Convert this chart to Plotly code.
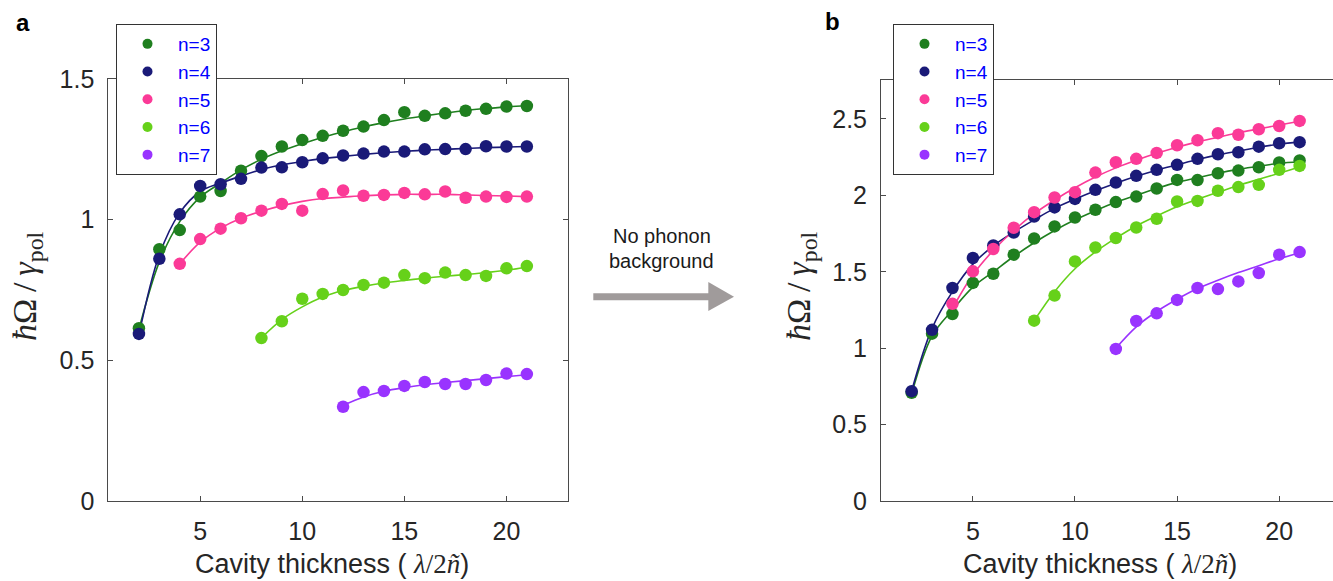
import plotly.graph_objects as go

# ---------------- data ----------------
labels = ["n=3", "n=4", "n=5", "n=6", "n=7"]
colors = ["#1f7f1f", "#1a1a78", "#fb3a97", "#66d11a", "#9933ff"]

x_n3 = list(range(2, 22))
x_n4 = list(range(2, 22))
x_n5 = list(range(4, 22))
x_n6 = list(range(8, 22))
x_n7 = list(range(12, 22))

# panel a: with phonon background (measured points)
a_n3 = [0.614, 0.895, 0.963, 1.082, 1.102, 1.174, 1.226, 1.260, 1.283, 1.298,
        1.316, 1.331, 1.354, 1.382, 1.369, 1.378, 1.387, 1.394, 1.402, 1.404]
a_n4 = [0.594, 0.861, 1.019, 1.120, 1.126, 1.145, 1.185, 1.186, 1.204, 1.218,
        1.228, 1.235, 1.242, 1.242, 1.250, 1.251, 1.251, 1.261, 1.260, 1.260]
a_n5 = [0.843, 0.931, 0.968, 1.005, 1.032, 1.056, 1.032, 1.091, 1.104, 1.085,
        1.088, 1.095, 1.090, 1.100, 1.078, 1.082, 1.081, 1.082]
a_n6 = [0.579, 0.639, 0.719, 0.736, 0.750, 0.768, 0.776, 0.803, 0.792, 0.812,
        0.803, 0.800, 0.827, 0.835]
a_n7 = [0.335, 0.387, 0.391, 0.409, 0.423, 0.416, 0.416, 0.430, 0.453, 0.451]

# panel a: fitted curves (read at integer thickness)
af_n3 = [0.610, 0.850, 0.993, 1.080, 1.130, 1.177, 1.215, 1.245, 1.270, 1.293,
         1.312, 1.330, 1.345, 1.358, 1.369, 1.379, 1.388, 1.395, 1.401, 1.405]
af_n4 = [0.590, 0.875, 1.024, 1.100, 1.130, 1.155, 1.178, 1.195, 1.207, 1.217,
         1.225, 1.232, 1.238, 1.243, 1.247, 1.250, 1.253, 1.256, 1.258, 1.260]
af_n5 = [0.843, 0.920, 0.970, 1.005, 1.030, 1.050, 1.065, 1.075, 1.080, 1.085,
         1.088, 1.090, 1.090, 1.090, 1.088, 1.086, 1.084, 1.082]
af_n6 = [0.580, 0.645, 0.690, 0.725, 0.748, 0.763, 0.775, 0.784, 0.792, 0.799,
         0.805, 0.812, 0.820, 0.832]
af_n7 = [0.340, 0.370, 0.390, 0.403, 0.413, 0.421, 0.428, 0.435, 0.442, 0.449]

# panel b: no phonon background (measured points)
b_n3 = [0.708, 1.095, 1.224, 1.427, 1.487, 1.612, 1.718, 1.797, 1.855, 1.906,
        1.956, 1.992, 2.045, 2.101, 2.100, 2.145, 2.162, 2.184, 2.215, 2.228]
b_n4 = [0.719, 1.120, 1.394, 1.590, 1.672, 1.757, 1.862, 1.921, 1.977, 2.036,
        2.084, 2.128, 2.167, 2.200, 2.239, 2.269, 2.282, 2.319, 2.341, 2.348]
b_n5 = [1.290, 1.503, 1.649, 1.788, 1.890, 1.986, 2.021, 2.149, 2.217, 2.239,
        2.278, 2.328, 2.361, 2.407, 2.397, 2.433, 2.454, 2.487]
b_n6 = [1.180, 1.344, 1.568, 1.659, 1.721, 1.790, 1.847, 1.960, 1.964, 2.030,
        2.054, 2.069, 2.167, 2.193]
b_n7 = [0.995, 1.178, 1.228, 1.316, 1.394, 1.387, 1.437, 1.492, 1.612, 1.629]

# panel b: fitted curves
bf_n3 = [0.700, 1.080, 1.250, 1.400, 1.500, 1.600, 1.690, 1.770, 1.840, 1.900,
         1.955, 2.000, 2.045, 2.085, 2.115, 2.145, 2.170, 2.190, 2.210, 2.220]
bf_n4 = [0.720, 1.130, 1.370, 1.550, 1.670, 1.760, 1.840, 1.915, 1.975, 2.030,
         2.080, 2.125, 2.165, 2.200, 2.235, 2.265, 2.290, 2.315, 2.335, 2.350]
bf_n5 = [1.260, 1.480, 1.640, 1.770, 1.880, 1.970, 2.050, 2.120, 2.180, 2.230,
         2.275, 2.315, 2.350, 2.380, 2.410, 2.435, 2.460, 2.485]
bf_n6 = [1.180, 1.370, 1.520, 1.630, 1.720, 1.800, 1.865, 1.925, 1.975, 2.020,
         2.065, 2.105, 2.145, 2.185]
bf_n7 = [1.000, 1.140, 1.240, 1.320, 1.390, 1.445, 1.495, 1.540, 1.585, 1.625]

xs = [x_n3, x_n4, x_n5, x_n6, x_n7]
a_pts = [a_n3, a_n4, a_n5, a_n6, a_n7]
a_fit = [af_n3, af_n4, af_n5, af_n6, af_n7]
b_pts = [b_n3, b_n4, b_n5, b_n6, b_n7]
b_fit = [bf_n3, bf_n4, bf_n5, bf_n6, bf_n7]

a_yticks = [0, 0.5, 1, 1.5]
a_yticktext = ["0", "0.5", "1", "1.5"]
b_yticks = [0, 0.5, 1, 1.5, 2, 2.5]
b_yticktext = ["0", "0.5", "1", "1.5", "2", "2.5"]
x_ticks = [5, 10, 15, 20]

# ---------------- figure ----------------
W, H = 1333, 581
SANS = "Liberation Sans, Arial, sans-serif"
SERIF = "Liberation Serif, Times New Roman, serif"
AX = "#4a4a4a"
TXT = "#262626"
MS = 12.5

fig = go.Figure()

for panel, (pts, fit, xa, ya, leg) in enumerate([
        (a_pts, a_fit, "x", "y", "legend"),
        (b_pts, b_fit, "x2", "y2", "legend2")]):
    for i in range(5):
        fig.add_trace(go.Scatter(
            x=xs[i], y=fit[i], mode="lines", line=dict(color=colors[i], width=1.6, shape="spline", smoothing=1.0),
            xaxis=xa, yaxis=ya, showlegend=False, hoverinfo="skip"))
    for i in range(5):
        fig.add_trace(go.Scatter(
            x=xs[i], y=pts[i], mode="markers", marker=dict(color=colors[i], size=MS),
            xaxis=xa, yaxis=ya, showlegend=False, name=labels[i]))
    for i in range(5):
        fig.add_trace(go.Scatter(
            x=[None], y=[None], mode="markers", marker=dict(color=colors[i], size=10),
            xaxis=xa, yaxis=ya, name=labels[i], legend=leg, showlegend=True))

axis_common = dict(showline=True, linecolor=AX, linewidth=1, ticks="inside", ticklen=5,
                   tickcolor=AX, tickwidth=1, showgrid=False, zeroline=False,
                   tickfont=dict(family=SANS, size=25, color=TXT))

fig.update_layout(
    width=W, height=H, margin=dict(l=0, r=0, t=0, b=0, autoexpand=False),
    paper_bgcolor="white", plot_bgcolor="white",
    xaxis=dict(domain=[108.3 / W, 567.7 / W], range=[0.5, 23], tickvals=x_ticks,
               mirror="ticks", anchor="y", ticklabelstandoff=8, **axis_common),
    yaxis=dict(domain=[(H - 501) / H, (H - 79) / H], range=[0, 1.5], tickvals=a_yticks,
               ticktext=a_yticktext, mirror="ticks", anchor="x", ticklabelstandoff=8, **axis_common),
    xaxis2=dict(domain=[881 / W, 1.0], range=[0.5, 0.5 + (W - 881) / 20.42], tickvals=x_ticks,
                mirror="ticks", anchor="y2", ticklabelstandoff=8, **axis_common),
    yaxis2=dict(domain=[(H - 501) / H, (H - 80) / H], range=[0, 2.755], tickvals=b_yticks,
                ticktext=b_yticktext, mirror=False, anchor="x2", ticklabelstandoff=8, **axis_common),
    legend=dict(x=116 / W, y=1 - 24 / H, xanchor="left", yanchor="top",
                bordercolor="#333333", borderwidth=1, bgcolor="white",
                font=dict(family=SANS, size=19, color="#0000ff"), itemwidth=51,
                tracegroupgap=0),
    legend2=dict(x=893 / W, y=1 - 24 / H, xanchor="left", yanchor="top",
                 bordercolor="#333333", borderwidth=1, bgcolor="white",
                 font=dict(family=SANS, size=19, color="#0000ff"), itemwidth=51,
                 tracegroupgap=0),
    showlegend=True,
)

ytitle = ("<span style=\"font-family:%s\"><i>ħ</i>Ω\u2009/\u2009<i>γ</i><sub>pol</sub></span>" % SERIF)
xtitle = ("Cavity thickness ( <span style=\"font-family:%s\"><i>λ</i>/2<i>ñ</i></span>)" % SERIF)

ann = [
    dict(x=23.5 / W, y=1 - 22.5 / H, text="<b>a</b>", font=dict(family=SANS, size=24, color="black")),
    dict(x=832.5 / W, y=1 - 22 / H, text="<b>b</b>", font=dict(family=SANS, size=24, color="black")),
    dict(x=331.5 / W, y=1 - 564 / H, text=xtitle, font=dict(family=SANS, size=27, color=TXT)),
    dict(x=1100 / W, y=1 - 564 / H, text=xtitle, font=dict(family=SANS, size=27, color=TXT)),
    dict(x=27 / W, y=1 - 286 / H, text=ytitle, textangle=-90, font=dict(family=SERIF, size=34, color=TXT)),
    dict(x=801 / W, y=1 - 286 / H, text=ytitle, textangle=-90, font=dict(family=SERIF, size=34, color=TXT)),
    dict(x=661.7 / W, y=1 - 236 / H, text="No phonon", font=dict(family=SANS, size=20, color="#1a1a1a")),
    dict(x=661.7 / W, y=1 - 261 / H, text="background", font=dict(family=SANS, size=20, color="#1a1a1a")),
]
for a in ann:
    a.update(xref="paper", yref="paper", showarrow=False, xanchor="center", yanchor="middle")
    fig.add_annotation(**a)

ARROW = "#a09b9b"
fig.add_shape(type="line", xref="paper", yref="paper",
              x0=593.3 / W, x1=710 / W, y0=1 - 296.7 / H, y1=1 - 296.7 / H,
              line=dict(color=ARROW, width=7))
fig.add_shape(type="path", xref="paper", yref="paper",
              path="M %f %f L %f %f L %f %f Z" % (708.3 / W, 1 - 282 / H, 734 / W, 1 - 296.7 / H, 708.3 / W, 1 - 311 / H),
              fillcolor=ARROW, line=dict(color=ARROW, width=0))

fig.write_html("out.html")
